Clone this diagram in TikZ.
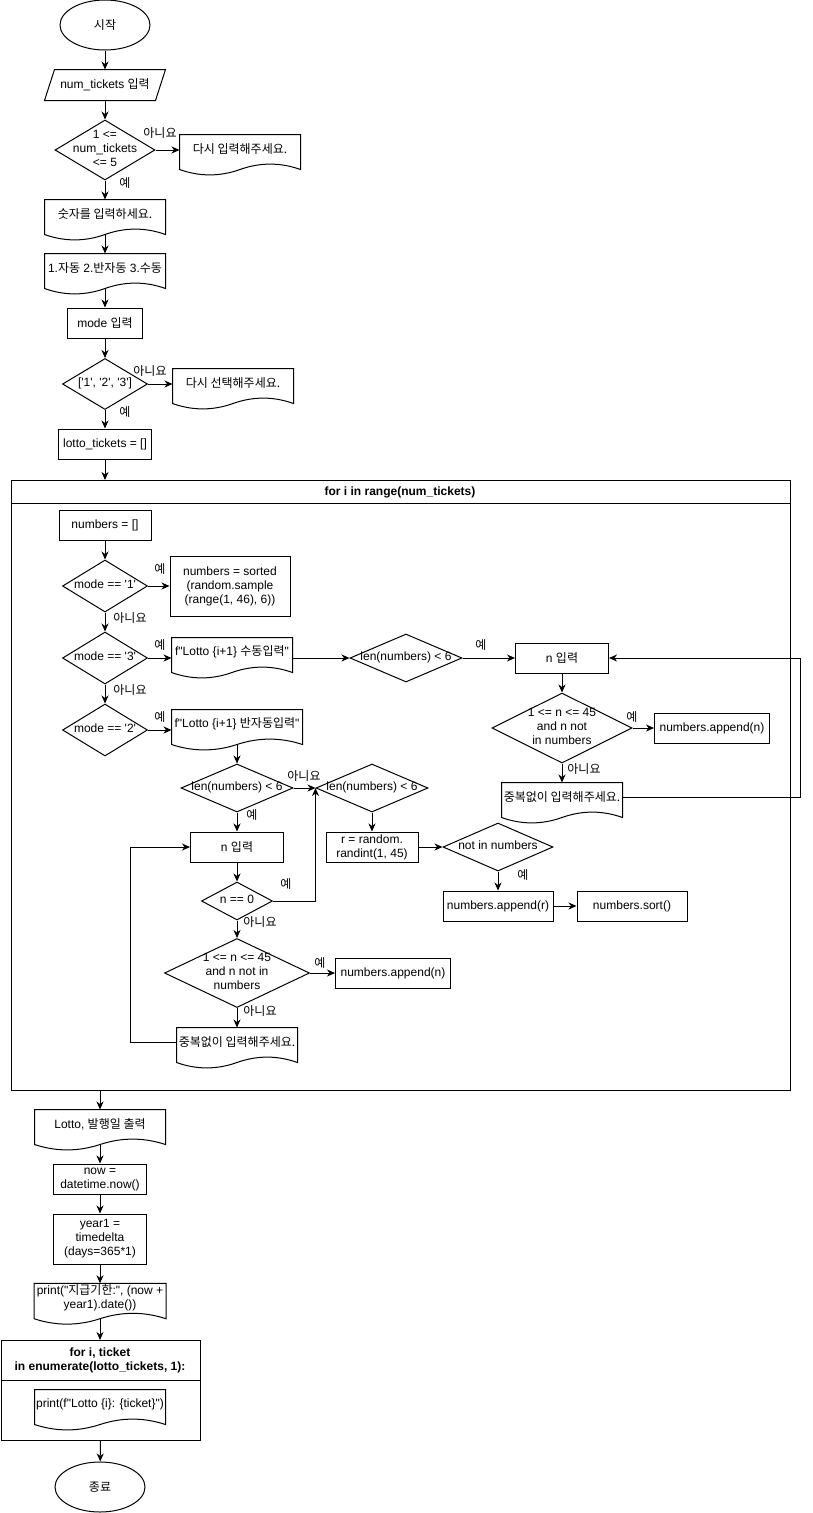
\documentclass[tikz,border=0pt]{standalone}
\usepackage{fontspec}
\setmainfont{Liberation Sans}[Ligatures=TeXOff]
\newfontfamily\kr{Noto Sans CJK KR}
\usetikzlibrary{arrows.meta,shapes.geometric,calc}

% text of a decision, kept out of the diamond's size
\newcommand\dt[1]{\makebox[0pt]{\begin{tabular}{@{}c@{}}#1\end{tabular}}}
% outline of a document shape round a text node, and its bottom point
\newcommand\docwave[1]{%
  \draw (#1.north west) -- (#1.north east) -- ([yshift=-6pt]#1.south east)
    .. controls ($(#1.south east)!1/6!(#1.south west)+(0,-1.2)$) and ($(#1.south east)!1/3!(#1.south west)+(0,-1.2)$) .. ([yshift=-6pt]#1.south)
    .. controls ($(#1.south west)!1/3!(#1.south east)+(0,13.2)$) and ($(#1.south west)!1/6!(#1.south east)+(0,13.2)$) .. ([yshift=-6pt]#1.south west)
    -- cycle;
  \coordinate (#1-b) at ([yshift=-6pt]#1.south)}

\begin{document}
\begin{tikzpicture}[x=1pt,y=-1pt,line width=1pt,
  >={Stealth[length=8pt,width=7pt,inset=2.5pt]},
  base/.style={font=\fontsize{12}{14}\selectfont,align=center,inner sep=1pt},
  term/.style={base,draw,ellipse,minimum width=90pt,minimum height=50pt},
  proc/.style={base,draw,minimum height=30pt},
  decision/.style={base,draw,diamond,aspect=1,inner sep=0pt},
  doctext/.style={base,minimum height=28pt},
  lbl/.style={font=\fontsize{12}{14}\selectfont\kr,inner sep=0pt}]
\useasboundingbox (0,0) rectangle (812,1513);

% input part
\node[term] (start) at (105,25) {{\kr 시작}};
\node[base,minimum width=120pt,minimum height=30pt] (tin) at (105,85) {num\_tickets {\kr 입력}};
\draw ([xshift=10pt]tin.north west) -- (tin.north east) -- ([xshift=-10pt]tin.south east) -- (tin.south west) -- cycle;
\node[decision,minimum width=100pt,minimum height=60pt] (d1) at (105,150) {\dt{1 <=\\num\_tickets\\<= 5}};
\node[doctext,minimum width=120pt] (re1) at (240,149) {{\kr 다시 입력해주세요.}};
\docwave{re1};
\node[doctext,minimum width=120pt] (msg) at (105,214) {{\kr 숫자를 입력하세요.}};
\docwave{msg};
\node[doctext,minimum width=120pt] (menu) at (105,268) {1.{\kr 자동} 2.{\kr 반자동} 3.{\kr 수동}};
\docwave{menu};
\node[proc,minimum width=75pt] (mode) at (105,323) {mode {\kr 입력}};
\node[decision,minimum width=85pt,minimum height=51pt] (d2) at (105,384) {\dt{['1', '2', '3']}};
\node[doctext,minimum width=120pt] (re2) at (233,383) {{\kr 다시 선택해주세요.}};
\docwave{re2};
\node[proc,minimum width=93pt] (lt) at (105,444) {lotto\_tickets = []};

\node[lbl] (l1) at (160,133) {아니요};
\node[lbl] (l2) at (125,183) {예};
\node[lbl] (l3) at (150,371) {아니요};
\node[lbl] (l4) at (125,412) {예};

\draw[->] (start) -- (tin);
\draw[->] (tin) -- (d1);
\draw[->] (d1.east) -- (d1.east -| re1.west);
\draw[->] (d1) -- (msg);
\draw[->] (msg-b) -- (menu);
\draw[->] (menu-b) -- (mode);
\draw[->] (mode) -- (d2);
\draw[->] (d2.east) -- (d2.east -| re2.west);
\draw[->] (d2) -- (lt);

% loop over tickets
\node[draw,minimum width=779pt,minimum height=610pt,inner sep=0pt,anchor=north west] (loop) at (11,480) {};
\draw (11,503) -- (790,503);
\node[base,font=\fontsize{12}{14}\selectfont\bfseries] (ltitle) at (400,492) {for i in range(num\_tickets)};
\draw[->] (lt) -- (lt |- loop.north);

\node[proc,minimum width=92pt] (nums) at (105,525) {numbers = []};
\node[decision,minimum width=85pt,minimum height=52pt] (m1) at (105,586) {\dt{mode == '1'}};
\node[proc,minimum width=120pt,minimum height=60pt] (samp) at (230,586) {numbers = sorted\\(random.sample\\(range(1, 46), 6))};
\node[decision,minimum width=85pt,minimum height=52pt] (m3) at (105,658) {\dt{mode == '3'}};
\node[doctext,minimum width=120pt] (man) at (232,652) {f"Lotto \{i+1\} {\kr 수동입력}"};
\docwave{man};
\node[decision,minimum width=112pt,minimum height=48pt] (len1) at (406,658) {\dt{len(numbers) < 6}};
\node[proc,minimum width=93pt] (nin1) at (562,658) {n {\kr 입력}};
\node[decision,minimum width=140pt,minimum height=70pt] (chk1) at (562,728) {\dt{1 <= n <= 45\\and n not\\in numbers}};
\node[proc,minimum width=115pt] (app1) at (712,728) {numbers.append(n)};
\node[doctext,minimum width=120pt] (dup1) at (562,797) {{\kr 중복없이 입력해주세요.}};
\docwave{dup1};
\node[decision,minimum width=85pt,minimum height=52pt] (m2) at (105,730) {\dt{mode == '2'}};
\node[doctext,minimum width=130pt] (semi) at (237,724) {f"Lotto \{i+1\} {\kr 반자동입력}"};
\docwave{semi};
\node[decision,minimum width=112pt,minimum height=48pt] (len2) at (237,788) {\dt{len(numbers) < 6}};
\node[decision,minimum width=112pt,minimum height=48pt] (len3) at (372,788) {\dt{len(numbers) < 6}};
\node[proc,minimum width=93pt] (nin2) at (237,847) {n {\kr 입력}};
\node[decision,minimum width=71pt,minimum height=38pt] (n0) at (237,901) {\dt{n == 0}};
\node[decision,minimum width=145pt,minimum height=69pt] (chk2) at (237,973) {\dt{1 <= n <= 45\\and n not in\\numbers}};
\node[proc,minimum width=115pt] (app2) at (393,973) {numbers.append(n)};
\node[doctext,minimum width=120pt] (dup2) at (237,1042) {{\kr 중복없이 입력해주세요.}};
\docwave{dup2};
\node[proc,minimum width=92pt] (rnd) at (372,847) {r = random.\\randint(1, 45)};
\node[decision,minimum width=110pt,minimum height=48pt] (notin) at (498,847) {\dt{not in numbers}};
\node[proc,minimum width=110pt] (appr) at (498,906) {numbers.append(r)};
\node[proc,minimum width=110pt] (srt) at (632,906) {numbers.sort()};

\node[lbl] (l5) at (160,569) {예};
\node[lbl] (l6) at (130,618) {아니요};
\node[lbl] (l7) at (160,645) {예};
\node[lbl] (l8) at (130,690) {아니요};
\node[lbl] (l9) at (160,717) {예};
\node[lbl] (l10) at (481,645) {예};
\node[lbl] (l11) at (632,717) {예};
\node[lbl] (l12) at (584,769) {아니요};
\node[lbl] (l13) at (304,776) {아니요};
\node[lbl] (l14) at (252,815) {예};
\node[lbl] (l15) at (286,884) {예};
\node[lbl] (l16) at (260,922) {아니요};
\node[lbl] (l17) at (320,963) {예};
\node[lbl] (l18) at (260,1011) {아니요};
\node[lbl] (l19) at (523,875) {예};

\draw[->] (nums) -- (m1);
\draw[->] (m1) -- (samp);
\draw[->] (m1) -- (m3);
\draw[->] (m3) -- (m2);
\draw[->] (m3.east) -- (m3.east -| man.west);
\draw[->] (len1.west -| man.east) -- (len1.west);
\draw[->] (len1) -- (nin1);
\draw[->] (nin1) -- (chk1);
\draw[->] (chk1) -- (app1);
\draw[->] (chk1) -- (dup1);
\draw[->] (dup1.east) -- ++(178,0) |- (nin1.east);
\draw[->] (m2.east) -- (m2.east -| semi.west);
\draw[->] (semi-b) -- (len2);
\draw[->] (len2) -- (len3);
\draw[->] (len2) -- (nin2);
\draw[->] (nin2) -- (n0);
\draw[->] (n0.east) -| (len3.west);
\draw[->] (n0) -- (chk2);
\draw[->] (chk2) -- (app2);
\draw[->] (chk2) -- (dup2);
\draw[->] (dup2.west) -- ++(-46,0) |- (nin2.west);
\draw[->] (len3) -- (rnd);
\draw[->] (rnd) -- (notin);
\draw[->] (notin) -- (appr);
\draw[->] (appr) -- (srt);

% output part
\node[doctext,minimum width=130pt] (out) at (100,1124) {Lotto, {\kr 발행일 출력}};
\docwave{out};
\node[proc,minimum width=93pt] (now) at (100,1179) {now =\\datetime.now()};
\node[proc,minimum width=93pt,minimum height=50pt] (yr) at (100,1239) {year1 =\\timedelta\\(days=365*1)};
\node[doctext,minimum width=131pt] (pr) at (100,1298) {print("{\kr 지급기한}:", (now +\\year1).date())};
\docwave{pr};
\node[draw,minimum width=199.5pt,minimum height=100pt,inner sep=0pt,anchor=north west] (loop2) at (0.5,1340) {};
\draw (0.5,1380) -- (200,1380);
\node[base,font=\fontsize{12}{14}\selectfont\bfseries] (l2title) at (100,1360) {for i, ticket\\in enumerate(lotto\_tickets, 1):};
\node[doctext,minimum width=130pt] (prt) at (100,1404) {print(f"Lotto \{i\}: \{ticket\}")};
\docwave{prt};
\node[term] (stop) at (100,1487) {{\kr 종료}};

\draw[->] (out |- loop.south) -- (out);
\draw[->] (out-b) -- (now);
\draw[->] (now) -- (yr);
\draw[->] (yr) -- (pr);
\draw[->] (pr-b) -- (pr-b |- loop2.north);
\draw[->] (loop2) -- (stop);
\end{tikzpicture}
\end{document}
